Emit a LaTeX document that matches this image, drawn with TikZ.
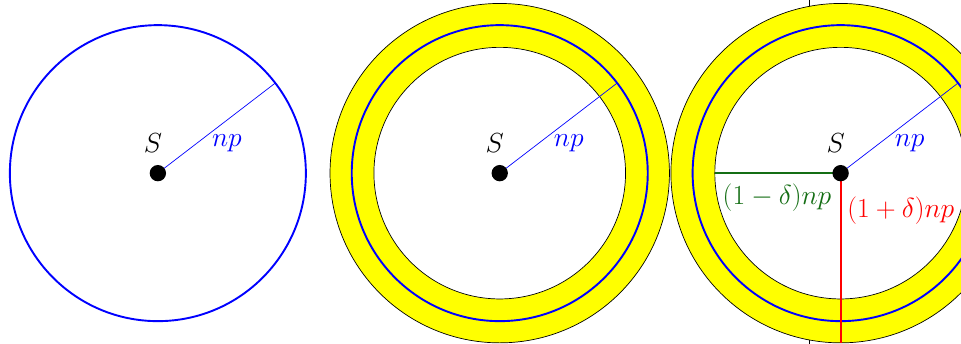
\documentclass[tikz,border=0pt]{standalone}
\usetikzlibrary{calc}
\definecolor{ringyellow}{RGB}{255,255,0}
\definecolor{lowgreen}{RGB}{20,110,20}
\begin{document}
\begin{tikzpicture}[every node/.style={font=\LARGE,scale=0.92}]
    \path[use as bounding box] (-3.20,-3.46) rectangle (16.28,3.51);
    % Divider
    \draw (13.20,-3.46) -- (13.20,3.51);

    % Figure 1
    \coordinate (p1) at (37.5:3);
    \draw[blue,line width=1.1pt] (0,0) circle (3);
    \draw[blue] (0,0) -- (p1);
    \node[circle,fill,inner sep=0,minimum size=0.36cm] (s1) at (0,0) {};
    \node (ls1) at (-0.1,0.6) {$S$};
    \node[blue] (np1) at (1.4,0.6) {$np$};

    % Figure 2
    \filldraw[fill=ringyellow] (6.93,0) circle (3.44);
    \filldraw[fill=white] (6.93,0) circle (2.55);
    \draw[blue,line width=1.1pt] (6.93,0) circle (3);
    \coordinate (p2) at ($(6.93,0)+(37.5:3)$);
    \draw[blue] (6.93,0) -- (p2);
    \node[circle,fill,inner sep=0,minimum size=0.36cm] (s2) at (6.93,0) {};
    \node (ls2) at (6.83,0.6) {$S$};
    \node[blue] (np2) at (8.33,0.6) {$np$};

    % Figure 3
    \filldraw[fill=ringyellow] (13.84,0) circle (3.44);
    \filldraw[fill=white] (13.84,0) circle (2.55);
    \draw[blue,line width=1.1pt] (13.84,0) circle (3);
    \coordinate (p3) at ($(13.84,0)+(37.5:3)$);
    \coordinate (g3) at (11.29,0);
    \coordinate (r3) at (13.84,-3.44);
    \draw[blue] (13.84,0) -- (p3);
    \draw[lowgreen,line width=1.1pt] (13.84,0) -- (g3);
    \draw[red,line width=1.1pt] (13.84,0) -- (r3);
    \node[circle,fill,inner sep=0,minimum size=0.36cm] (s3) at (13.84,0) {};
    \node (ls3) at (13.74,0.6) {$S$};
    \node[blue] (np3) at (15.24,0.6) {$np$};
    \node[lowgreen] (lo3) at (12.55,-0.5) {$(1-\delta)np$};
    \node[red] (hi3) at (15.06,-0.75) {$(1+\delta)np$};
  \end{tikzpicture}
\end{document}
